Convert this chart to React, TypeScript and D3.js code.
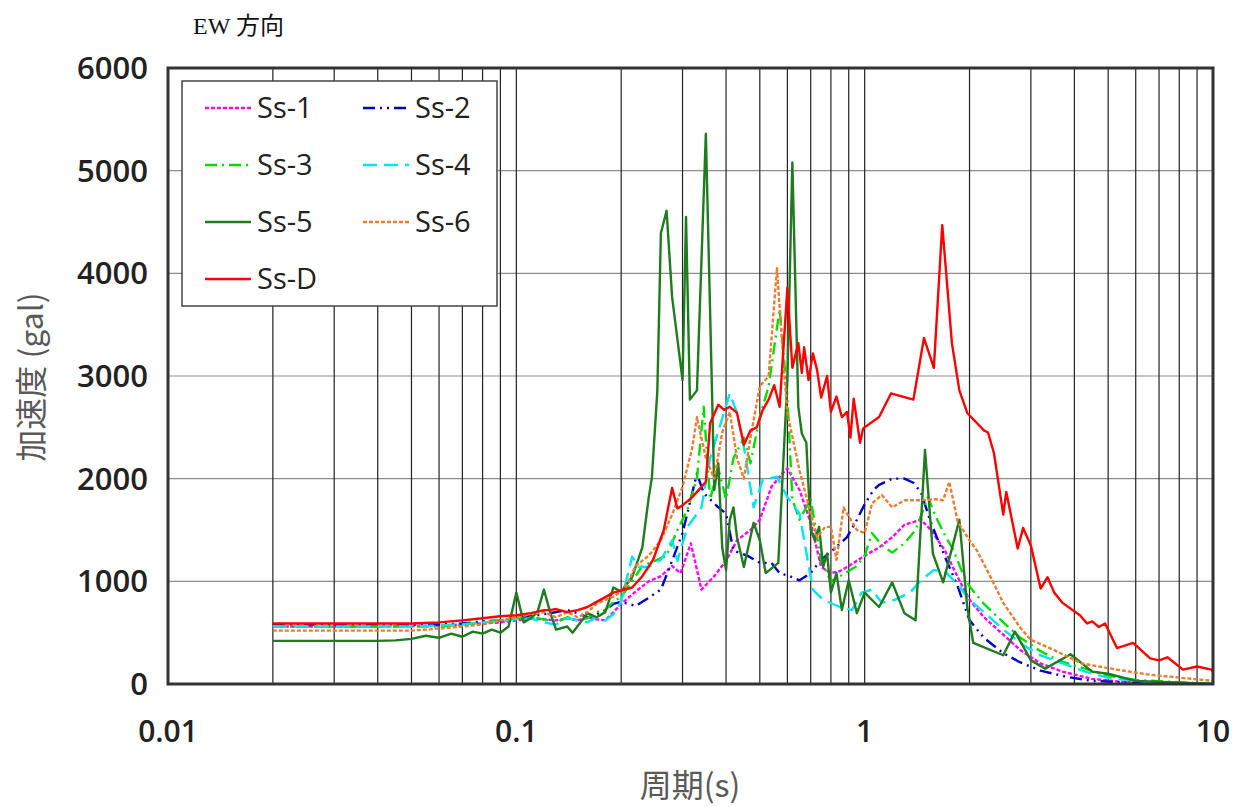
import React, { useEffect, useRef } from "react";
import * as d3 from "d3";

const title = "EW 方向";
const yTicks = [0, 1000, 2000, 3000, 4000, 5000, 6000];
const xTicks = [0.01, 0.1, 1, 10];
const xTickLabels = ["0.01", "0.1", "1", "10"];
const yTitle = "加速度 (gal)";
const xTitle = "周期(s)";

const t1 = [0.02, 0.03, 0.04, 0.05, 0.06, 0.07, 0.08, 0.09, 0.1, 0.11, 0.12, 0.13, 0.14, 0.15, 0.16, 0.17, 0.18, 0.19, 0.2, 0.22, 0.24, 0.26, 0.28, 0.296, 0.317, 0.34, 0.37, 0.4, 0.43, 0.47, 0.5, 0.54, 0.58, 0.6, 0.65, 0.7, 0.75, 0.8, 0.85, 0.9, 1.0, 1.1, 1.2, 1.3, 1.45, 1.55, 1.7, 1.85, 2.0, 2.2, 2.5, 2.8, 3.2, 3.7, 4.5, 5.5, 7, 10];
const v1 = [560, 560, 560, 565, 570, 580, 590, 600, 620, 640, 630, 620, 640, 620, 650, 630, 620, 700, 780, 900, 1000, 1050, 1150, 1080, 1370, 920, 1050, 1200, 1400, 1500, 1600, 1920, 2050, 2100, 1890, 1570, 1140, 1080, 1100, 1150, 1250, 1330, 1430, 1550, 1600, 1500, 1300, 1040, 820, 650, 480, 330, 200, 120, 50, 20, 5, 0];

const t2 = [0.02, 0.03, 0.04, 0.05, 0.06, 0.07, 0.08, 0.09, 0.1, 0.11, 0.12, 0.13, 0.14, 0.15, 0.16, 0.17, 0.18, 0.19, 0.2, 0.21, 0.22, 0.235, 0.26, 0.28, 0.3, 0.33, 0.345, 0.38, 0.4, 0.42, 0.46, 0.5, 0.54, 0.57, 0.61, 0.65, 0.7, 0.75, 0.82, 0.89, 0.95, 1.0, 1.06, 1.1, 1.2, 1.3, 1.38, 1.45, 1.55, 1.68, 1.85, 2.0, 2.2, 2.5, 2.8, 3.2, 3.8, 4.5, 6, 10];
const v2 = [580, 580, 580, 580, 580, 590, 610, 620, 640, 660, 680, 700, 720, 690, 650, 680, 720, 780, 800, 780, 760, 820, 920, 1200, 1470, 2050, 1860, 1720, 1660, 1300, 1250, 1180, 1180, 1080, 1050, 1010, 1080, 1210, 1320, 1430, 1600, 1750, 1890, 1940, 2000, 2000, 1960, 1870, 1570, 1280, 950, 620, 450, 300, 210, 130, 70, 30, 10, 0];

const t3 = [0.02, 0.03, 0.04, 0.05, 0.06, 0.07, 0.08, 0.09, 0.1, 0.11, 0.12, 0.13, 0.14, 0.15, 0.16, 0.17, 0.18, 0.19, 0.2, 0.215, 0.23, 0.25, 0.27, 0.29, 0.31, 0.33, 0.345, 0.36, 0.38, 0.4, 0.42, 0.45, 0.47, 0.5, 0.53, 0.57, 0.6, 0.62, 0.65, 0.7, 0.75, 0.8, 0.85, 0.9, 0.95, 1.0, 1.05, 1.12, 1.2, 1.3, 1.4, 1.52, 1.6, 1.7, 1.8, 1.9, 2.0, 2.2, 2.5, 2.8, 3.2, 3.6, 4.0, 5, 6, 10];
const v3 = [560, 560, 560, 560, 560, 580, 600, 620, 640, 650, 630, 600, 650, 620, 640, 700, 720, 800, 850, 1000, 1150, 1200, 1250, 1500, 1700, 2000, 2700, 1800, 2100, 1800, 2200, 2400, 2150, 2600, 2900, 3650, 2800, 1800, 1600, 1800, 1200, 1000, 1050, 1100, 1150, 1250, 1470, 1350, 1280, 1370, 1500, 1820, 1630, 1450, 1300, 1100, 950, 780, 600, 450, 320, 230, 180, 80, 40, 0];

const t4 = [0.02, 0.03, 0.04, 0.05, 0.06, 0.07, 0.08, 0.09, 0.1, 0.11, 0.12, 0.13, 0.14, 0.15, 0.16, 0.17, 0.18, 0.19, 0.2, 0.21, 0.215, 0.225, 0.24, 0.26, 0.28, 0.29, 0.31, 0.34, 0.36, 0.41, 0.43, 0.45, 0.48, 0.51, 0.56, 0.6, 0.65, 0.71, 0.76, 0.85, 0.92, 0.98, 1.05, 1.12, 1.22, 1.35, 1.45, 1.58, 1.72, 1.87, 2.0, 2.2, 2.5, 2.85, 3.2, 3.7, 4.3, 5, 6.5, 10];
const v4 = [560, 560, 560, 560, 570, 580, 600, 610, 630, 640, 600, 580, 640, 620, 600, 650, 620, 680, 800, 1100, 1240, 1140, 1140, 1210, 1400, 1200, 1530, 1720, 2200, 2830, 2640, 2310, 1720, 1990, 2020, 1820, 1660, 920, 820, 750, 720, 890, 920, 790, 820, 890, 1010, 1110, 1080, 950, 820, 700, 530, 380, 280, 200, 120, 60, 20, 0];

const t5 = [0.02, 0.03, 0.04, 0.045, 0.05, 0.055, 0.06, 0.065, 0.07, 0.075, 0.08, 0.085, 0.09, 0.095, 0.1, 0.105, 0.11, 0.115, 0.12, 0.125, 0.13, 0.14, 0.145, 0.16, 0.17, 0.18, 0.19, 0.2, 0.215, 0.23, 0.24, 0.245, 0.254, 0.26, 0.27, 0.28, 0.3, 0.307, 0.315, 0.33, 0.35, 0.365, 0.37, 0.38, 0.39, 0.4, 0.41, 0.42, 0.43, 0.45, 0.48, 0.5, 0.52, 0.565, 0.6, 0.62, 0.645, 0.66, 0.68, 0.7, 0.72, 0.74, 0.76, 0.78, 0.8, 0.83, 0.86, 0.9, 0.95, 1.0, 1.1, 1.2, 1.3, 1.4, 1.49, 1.57, 1.68, 1.87, 1.97, 2.05, 2.5, 2.7, 3.0, 3.3, 3.9, 4.5, 5, 6, 10];
const v5 = [420, 420, 420, 425, 440, 470, 450, 490, 460, 510, 490, 530, 500, 560, 890, 600, 640, 700, 920, 700, 530, 560, 500, 690, 650, 700, 940, 900, 1040, 1330, 1820, 2010, 2860, 4390, 4610, 3770, 2960, 4550, 2770, 2860, 5360, 2770, 1890, 2150, 1330, 1110, 1600, 1720, 1430, 1140, 1570, 1400, 1080, 1180, 2960, 5080, 2700, 2440, 2350, 1500, 1400, 1530, 1140, 1270, 890, 1080, 720, 1010, 690, 890, 750, 990, 690, 620, 2280, 1270, 990, 1600, 750, 400, 280, 510, 230, 150, 290, 120, 100, 30, 0];

const t6 = [0.02, 0.03, 0.04, 0.05, 0.055, 0.06, 0.07, 0.08, 0.09, 0.1, 0.11, 0.12, 0.13, 0.14, 0.15, 0.16, 0.17, 0.18, 0.19, 0.2, 0.21, 0.22, 0.24, 0.26, 0.28, 0.3, 0.32, 0.33, 0.35, 0.37, 0.39, 0.41, 0.43, 0.45, 0.47, 0.5, 0.53, 0.56, 0.58, 0.6, 0.65, 0.7, 0.73, 0.77, 0.8, 0.83, 0.87, 0.9, 0.95, 1.0, 1.05, 1.12, 1.2, 1.3, 1.45, 1.6, 1.68, 1.75, 1.85, 2.0, 2.1, 2.3, 2.5, 2.8, 3.0, 3.5, 4.2, 5.3, 6.6, 10];
const v6 = [520, 520, 520, 520, 530, 540, 560, 580, 620, 650, 680, 700, 650, 700, 650, 700, 780, 820, 850, 900, 1000, 1150, 1250, 1400, 1650, 1920, 2300, 2600, 2200, 2000, 2450, 2650, 2200, 2000, 2400, 2900, 3000, 4050, 3300, 2640, 2080, 1660, 1430, 1530, 1530, 1210, 1720, 1630, 1500, 1470, 1760, 1840, 1720, 1790, 1790, 1800, 1790, 1970, 1580, 1400, 1300, 1040, 790, 545, 430, 330, 200, 140, 90, 30];

const tD = [0.02, 0.03, 0.04, 0.05, 0.06, 0.07, 0.08, 0.09, 0.1, 0.11, 0.12, 0.125, 0.13, 0.14, 0.15, 0.16, 0.17, 0.19, 0.215, 0.23, 0.247, 0.265, 0.28, 0.29, 0.3, 0.32, 0.34, 0.35, 0.36, 0.38, 0.395, 0.41, 0.43, 0.45, 0.47, 0.49, 0.51, 0.53, 0.55, 0.57, 0.6, 0.62, 0.645, 0.66, 0.67, 0.69, 0.71, 0.73, 0.75, 0.78, 0.8, 0.83, 0.86, 0.89, 0.91, 0.93, 0.97, 0.99, 1.1, 1.19, 1.38, 1.48, 1.58, 1.67, 1.78, 1.87, 1.97, 2.2, 2.26, 2.35, 2.5, 2.55, 2.75, 2.85, 3.0, 3.2, 3.35, 3.5, 3.7, 3.95, 4.15, 4.35, 4.5, 4.7, 4.9, 5.3, 5.9, 6.6, 7.0, 7.4, 8.2, 9.0, 9.9, 10];
const vD = [590, 590, 590, 590, 600, 620, 640, 660, 670, 690, 720, 720, 730, 700, 720, 750, 800, 890, 940, 1050, 1210, 1500, 1910, 1710, 1740, 1820, 1920, 1970, 2540, 2720, 2670, 2700, 2640, 2330, 2470, 2500, 2670, 2770, 2910, 2700, 3860, 3080, 3320, 3030, 3280, 2960, 3220, 3060, 2790, 3000, 2650, 2800, 2600, 2650, 2400, 2780, 2350, 2490, 2600, 2830, 2770, 3370, 3080, 4470, 3320, 2860, 2640, 2470, 2450, 2250, 1650, 1870, 1320, 1520, 1350, 930, 1040, 890, 790, 720, 670, 590, 610, 555, 590, 350, 400, 250, 230, 260, 140, 170, 140, 120];

const seriesNames = ["Ss-1", "Ss-2", "Ss-3", "Ss-4", "Ss-5", "Ss-6", "Ss-D"];
const seriesPeriods = [t1, t2, t3, t4, t5, t6, tD];
const seriesValues = [v1, v2, v3, v4, v5, v6, vD];
const seriesColors = ["#FF00FF", "#0000CC", "#00DD00", "#00E5EE", "#1E7B1E", "#ED7D31", "#FF0000"];
const seriesDash = ["4,2", "12,5,2,5,2,5", "12,5,2,5", "14,7", null, "4,2", null];

export default function App() {
  const ref = useRef<SVGSVGElement | null>(null);

  useEffect(() => {
    document.body.style.margin = "0";
    const svg = d3.select(ref.current);
    svg.selectAll("*").remove();

    const L = 168, R = 1213, T = 68, B = 684;
    const x = d3.scaleLog().domain([0.01, 10]).range([L, R]);
    const y = d3.scaleLinear().domain([0, 6000]).range([B, T]);
    const sans = "'Open Sans', 'Noto Sans', sans-serif";

    svg.append("rect").attr("width", 1243).attr("height", 807).attr("fill", "#fff");

    svg.append("g").selectAll("line").data(yTicks.slice(1, -1)).join("line")
      .attr("x1", L).attr("x2", R).attr("y1", d => y(d)).attr("y2", d => y(d))
      .attr("stroke", "#8c8c8c").attr("stroke-width", 1.2);

    const minor: number[] = [];
    [0.01, 0.1, 1].forEach(dec => {
      for (let k = 1; k <= 9; k++) {
        const v = dec * k;
        if (v > 0.015) minor.push(v);
      }
    });
    svg.append("g").selectAll("line").data(minor).join("line")
      .attr("x1", d => x(d)).attr("x2", d => x(d)).attr("y1", T).attr("y2", B)
      .attr("stroke", "#222").attr("stroke-width", 1.2);

    svg.append("clipPath").attr("id", "clip").append("rect")
      .attr("x", L).attr("y", T).attr("width", R - L).attr("height", B - T);

    const line = d3.line<[number, number]>().x(d => x(d[0])).y(d => y(d[1]));
    const g = svg.append("g").attr("clip-path", "url(#clip)");
    seriesNames.forEach((name, i) => {
      const pts = seriesPeriods[i].map((t, j) => [t, seriesValues[i][j]] as [number, number]);
      const p = g.append("path").datum(pts).attr("d", line)
        .attr("fill", "none").attr("stroke", seriesColors[i])
        .attr("stroke-width", 2.4).attr("stroke-linejoin", "round");
      if (seriesDash[i]) p.attr("stroke-dasharray", seriesDash[i] as string);
    });

    svg.append("rect").attr("x", L).attr("y", T).attr("width", R - L).attr("height", B - T)
      .attr("fill", "none").attr("stroke", "#333").attr("stroke-width", 3);

    svg.append("g").selectAll("text").data(yTicks).join("text")
      .attr("x", 148).attr("y", d => y(d)).attr("dy", "0.36em")
      .attr("text-anchor", "end").attr("font-family", sans).attr("font-size", 31)
      .attr("font-weight", 600).attr("fill", "#222").text(d => String(d));

    svg.append("g").selectAll("text").data(xTicks).join("text")
      .attr("x", d => x(d)).attr("y", 742)
      .attr("text-anchor", "middle").attr("font-family", sans).attr("font-size", 30)
      .attr("font-weight", 600).attr("fill", "#222").text((d, i) => xTickLabels[i]);

    svg.append("text").attr("transform", "translate(43,377) rotate(-90)")
      .attr("text-anchor", "middle").attr("font-family", "'Noto Sans CJK JP', 'Open Sans', sans-serif")
      .attr("font-size", 32).attr("fill", "#595959").text(yTitle);
    svg.append("text").attr("x", 690).attr("y", 797)
      .attr("text-anchor", "middle").attr("font-family", "'Noto Sans CJK JP', 'Open Sans', sans-serif")
      .attr("font-size", 32).attr("fill", "#595959").text(xTitle);

    svg.append("text").attr("x", 193).attr("y", 34)
      .attr("font-family", "'Liberation Serif', 'Noto Sans CJK JP', serif")
      .attr("font-size", 24).attr("fill", "#111").text(title);

    const lg = svg.append("g");
    lg.append("rect").attr("x", 182).attr("y", 81).attr("width", 315).attr("height", 225)
      .attr("fill", "#fff").attr("stroke", "#444").attr("stroke-width", 1.5);
    const rowsY = [108, 165, 222, 279];
    seriesNames.forEach((name, i) => {
      const col = i % 2, row = Math.floor(i / 2);
      const x0 = col === 0 ? 205 : 363;
      const yy = rowsY[row];
      const l = lg.append("line").attr("x1", x0).attr("x2", x0 + 46).attr("y1", yy).attr("y2", yy)
        .attr("stroke", seriesColors[i]).attr("stroke-width", 2.4);
      if (seriesDash[i]) l.attr("stroke-dasharray", seriesDash[i] as string);
      lg.append("text").attr("x", x0 + 52).attr("y", yy).attr("dy", "0.36em")
        .attr("font-family", sans).attr("font-size", 29).attr("fill", "#222").text(name);
    });
  }, []);

  return <svg ref={ref} width={1243} height={807} style={{ position: "absolute", left: 0, top: 0 }} />;
}
